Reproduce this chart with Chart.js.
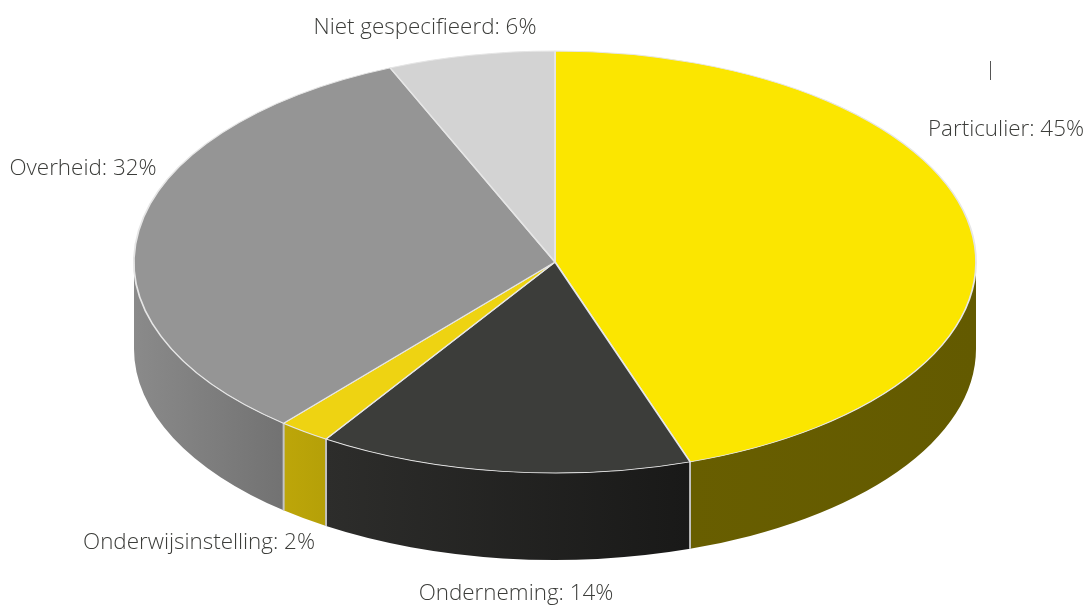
<!DOCTYPE html>
<html><head><meta charset="utf-8">
<style>html,body{margin:0;padding:0;background:#fff}#wrap{position:relative;width:1087px;height:605px}</style>
<script src="https://cdn.jsdelivr.net/npm/chart.js@4"></script>
</head><body><div id="wrap"><canvas id="c" width="1087" height="605"></canvas></div>
<script>
const categories = ['Particulier','Onderneming','Onderwijsinstelling','Overheid','Niet gespecifieerd'];
const sliceValues = [44.8,14.35,2.0,32.45,6.4];
const labelPercents = [45,14,2,32,6];
const topColors = ['#FBE600','#3C3D3A','#EED312','#959595','#D3D3D3'];
const sideLeft = ['#685E00','#2D2D2B','#BDA609','#8A8A8A','#bbbbbb'];
const sideRight = ['#635A00','#191918','#B5A008','#727272','#bbbbbb'];

const CX=555, CY=262, RX=421, SQUASH=211/421, DEPTH=87;
const labelPos = [[1006,130],[516,594],[199,543],[83,169],[425,28]];

const pie3d = {
  id:'pie3d',
  beforeDatasetsDraw(chart){
    const ctx=chart.ctx, arcs=chart.getDatasetMeta(0).data;
    const ox=arcs[0].x, oy=arcs[0].y;
    const ex=t=>CX+RX*Math.cos(t), ey=t=>CY+RX*SQUASH*Math.sin(t);
    arcs.forEach((a,i)=>{
      let s=Math.max(a.startAngle,0), e=Math.min(a.endAngle,Math.PI);
      if(e<=s) return;
      const g=ctx.createLinearGradient(ex(e),0,ex(s),0);
      g.addColorStop(0,sideLeft[i]); g.addColorStop(1,sideRight[i]);
      ctx.save();
      ctx.beginPath();
      ctx.ellipse(CX,CY,RX,RX*SQUASH,0,s,e,false);
      ctx.ellipse(CX,CY+DEPTH,RX,RX*SQUASH,0,e,s,true);
      ctx.closePath();
      ctx.fillStyle=g; ctx.fill();
      ctx.restore();
    });
    // seams on the wall between visible slices
    arcs.forEach(a=>{
      [a.startAngle,a.endAngle].forEach(t=>{
        if(t>0.01&&t<Math.PI-0.01){
          ctx.save();ctx.strokeStyle='#C4C4C4';ctx.lineWidth=1.6;
          ctx.beginPath();ctx.moveTo(ex(t),ey(t));ctx.lineTo(ex(t),ey(t)+DEPTH);ctx.stroke();ctx.restore();
        }
      });
    });
    // squash the library's own arcs onto the ellipse
    ctx.save();
    ctx.translate(CX,CY);ctx.scale(1,SQUASH);ctx.translate(-ox,-oy);
  },
  afterDatasetsDraw(chart){
    const ctx=chart.ctx;
    ctx.restore();
    ctx.save();
    ctx.font='300 22.4px "Open Sans"';ctx.fillStyle='#3C3D3A';ctx.textAlign='center';ctx.textBaseline='middle';
    categories.forEach((c,i)=>ctx.fillText(c+': '+labelPercents[i]+'%',labelPos[i][0],labelPos[i][1]));
    ctx.strokeStyle='#555';ctx.lineWidth=1;ctx.beginPath();ctx.moveTo(990.5,61);ctx.lineTo(990.5,80);ctx.stroke();
    ctx.restore();
  }
};

new Chart(document.getElementById('c'),{
  type:'pie',
  data:{labels:categories,datasets:[{data:sliceValues,backgroundColor:topColors,borderColor:'#E6E6E6',borderWidth:1.8,radius:RX}]},
  options:{responsive:false,animation:false,layout:{padding:0},
    plugins:{legend:{display:false},tooltip:{enabled:false}}},
  plugins:[pie3d]
});
</script></body></html>
